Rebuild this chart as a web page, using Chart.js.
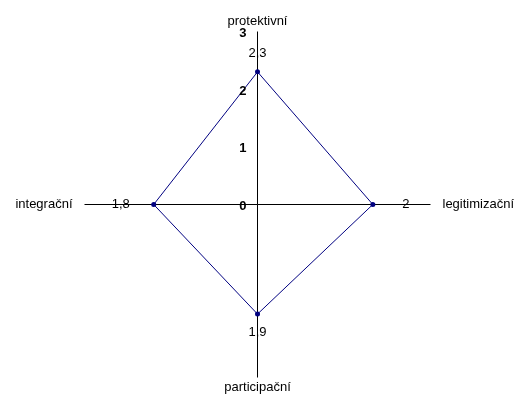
<!DOCTYPE html>
<html>
<head>
<meta charset="utf-8">
<script src="https://cdn.jsdelivr.net/npm/chart.js@4.4.1/dist/chart.umd.min.js"></script>
<style>
  html, body { margin: 0; padding: 0; background: #fff; }
</style>
</head>
<body>
<canvas id="graf" width="520" height="394"></canvas>
<script>
const osy = ['protektivní', 'legitimizační', 'participační', 'integrační'];
const hodnoty = [2.3, 2, 1.9, 1.8];
const stupnice = [0, 1, 2, 3];

const pismo = '"Liberation Sans", Arial, sans-serif';
const carka = v => String(v).replace('.', ',');

// popisky os, hodnot a stupnice kreslime sami
const popisky = {
  id: 'popisky',
  beforeDraw(chart) {
    // posun o pul pixelu, aby osy byly ostre
    chart.ctx.save();
    chart.ctx.translate(0.5, 0.5);
  },
  afterDraw(chart) {
    const r = chart.scales.r;
    const c = chart.ctx;
    c.save();
    c.fillStyle = '#000';
    c.textBaseline = 'middle';

    c.font = 'bold 13px ' + pismo;
    c.textAlign = 'right';
    stupnice.forEach(t => {
      c.fillText(String(t), r.xCenter - 11, r.yCenter - r.getDistanceFromCenterForValue(t) + 2);
    });

    c.font = '13px ' + pismo;
    osy.forEach((nazev, i) => {
      const svisle = i % 2 === 0;
      const p = r.getPointPosition(i, r.drawingArea + (svisle ? 10 : 12));
      c.textAlign = svisle ? 'center' : (i === 1 ? 'left' : 'right');
      c.fillText(nazev, p.x, p.y);
    });

    hodnoty.forEach((v, i) => {
      const svisle = i % 2 === 0;
      const p = r.getPointPosition(i, r.getDistanceFromCenterForValue(v) + (svisle ? 18 : 33));
      c.textAlign = 'center';
      c.fillText(carka(v), p.x, p.y);
    });
    c.restore();
    c.restore();
  }
};

new Chart(document.getElementById('graf'), {
  type: 'radar',
  data: {
    labels: osy,
    datasets: [{
      data: hodnoty,
      borderColor: '#000080',
      borderWidth: 1,
      backgroundColor: '#000080',
      fill: false,
      pointRadius: 2.5,
      pointBorderWidth: 0,
      pointBackgroundColor: '#000080'
    }]
  },
  options: {
    responsive: false,
    animation: false,
    devicePixelRatio: 1,
    layout: { padding: { top: 31, bottom: 17, left: 0, right: 6 } },
    plugins: { legend: { display: false }, tooltip: { enabled: false } },
    scales: {
      r: {
        min: 0,
        max: 3,
        ticks: { display: false, stepSize: 1 },
        grid: { display: false },
        angleLines: { display: true, color: '#000', lineWidth: 1 },
        pointLabels: { display: false }
      }
    }
  },
  plugins: [popisky]
});
</script>
</body>
</html>
